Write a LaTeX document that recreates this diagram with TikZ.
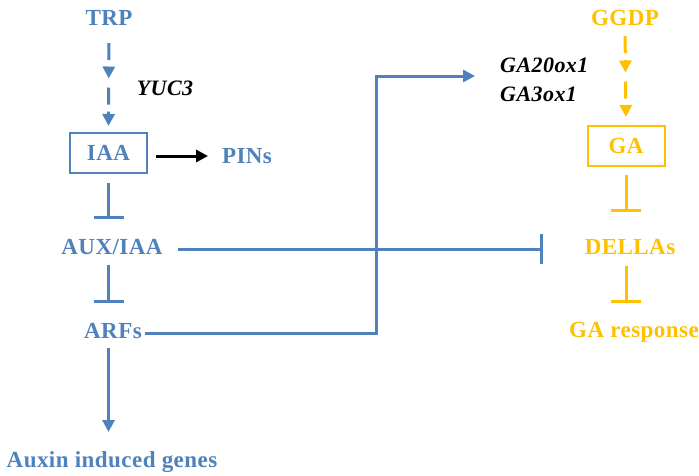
\documentclass[tikz,border=0pt]{standalone}
\usepackage{fontspec}
\setmainfont{Liberation Serif}
\newfontfamily\lblfont[LetterSpace=2]{Liberation Serif}
\usepackage{tikz}
\usetikzlibrary{positioning,arrows.meta,calc}
\usepackage{xcolor}
\definecolor{auxblue}{RGB}{79,129,189}
\definecolor{gaorange}{RGB}{255,192,0}

\begin{document}
\begin{tikzpicture}[x=1pt, y=-1pt,
    lbl/.style={font=\lblfont\fontsize{23}{26}\selectfont\bfseries, text=#1, inner sep=0pt, outer sep=0pt, text height=14pt, text depth=0pt},
    lbl/.default={auxblue},
    gene/.style={font=\lblfont\fontsize{22}{26}\selectfont\bfseries\itshape, text=black, inner sep=0pt, text height=14pt, text depth=0pt},
    hormbox/.style={draw=#1, line width=2pt, text=#1, font=\lblfont\fontsize{23}{26}\selectfont\bfseries, minimum width=77pt, minimum height=40pt, inner sep=0pt},
    arr/.style={-{Triangle[length=12pt,width=12pt]}, line width=3pt, draw=#1},
    arr/.default={auxblue},
    dasharr/.style={arr=#1, dash pattern=on 17pt off 7pt},
    inh/.style={-{Bar[width=30pt]}, line width=3pt, draw=#1},
    inh/.default={auxblue},
]
\useasboundingbox (0,0) rectangle (699,475);

% auxin side
\node[lbl] (trp) at (109,18) {TRP};
\node[gene] (yuc) at (165,88) {YUC3};
\node[hormbox=auxblue] (iaa) at (108.5,153) {IAA};
\node[lbl] (pins) at (247,156) {PINs};
\node[lbl] (auxiaa) at (112,247) {AUX/IAA};
\node[lbl] (arfs) at (113,331) {ARFs};
\node[lbl] (genes) at (112,460) {Auxin induced genes};

% GA side
\node[lbl=gaorange] (ggdp) at (625,18) {GGDP};
\node[hormbox=gaorange] (ga) at (626,146) {GA};
\node[lbl=gaorange] (dellas) at (630,247) {DELLAs};
\node[lbl=gaorange] (garesp) at (634,330) {GA response};
\node[gene, anchor=west] (ga20) at (500,65) {GA20ox1};
\node[gene, anchor=west] (ga3) at (500,94) {GA3ox1};

\coordinate (trpmid) at ($(trp.south)!0.5!(iaa.north)$);
\coordinate (ggdpmid) at ($(ggdp.south)!0.5!(ga.north)$);

% ===== ARROWS =====
\draw[dasharr, shorten <=18pt] (trp.south) -- (trpmid);
\draw[dasharr, shorten <=9pt, shorten >=6pt] (trpmid) -- (iaa.north);
\draw[arr=black, shorten <=8pt, shorten >=14pt] (iaa.east |- pins.west) -- (pins.west);
\draw[inh, shorten <=9pt, shorten >=21pt] (iaa.south) -- (iaa.south |- auxiaa.north);
\draw[inh, shorten <=11pt, shorten >=21pt] (iaa.south |- auxiaa.south) -- (iaa.south |- arfs.north);
\draw[arr, shorten <=10pt, shorten >=21pt] (iaa.south |- arfs.south) -- (iaa.south |- genes.north);
\draw[inh, shorten <=15pt] ([yshift=-2pt]auxiaa.east) -- ([yshift=-2pt]auxiaa.east -| 543,0);
\draw[arr, line cap=rect] ([xshift=5pt,yshift=-2pt]arfs.east) -| ([xshift=-124pt,yshift=-11pt]ga20.west) -- ([xshift=-25pt,yshift=-11pt]ga20.west);

\draw[dasharr=gaorange, shorten <=11pt, shorten >=2.5pt] (ggdp.south) -- (ggdpmid);
\draw[dasharr=gaorange, shorten <=6.5pt, shorten >=8pt] (ggdpmid) -- (ga.north);
\draw[inh=gaorange, shorten <=8pt, shorten >=28pt] (ga.south) -- (ga.south |- dellas.north);
\draw[inh=gaorange, shorten <=12pt, shorten >=20pt] (ga.south |- dellas.south) -- (ga.south |- garesp.north);

\end{tikzpicture}
\end{document}
